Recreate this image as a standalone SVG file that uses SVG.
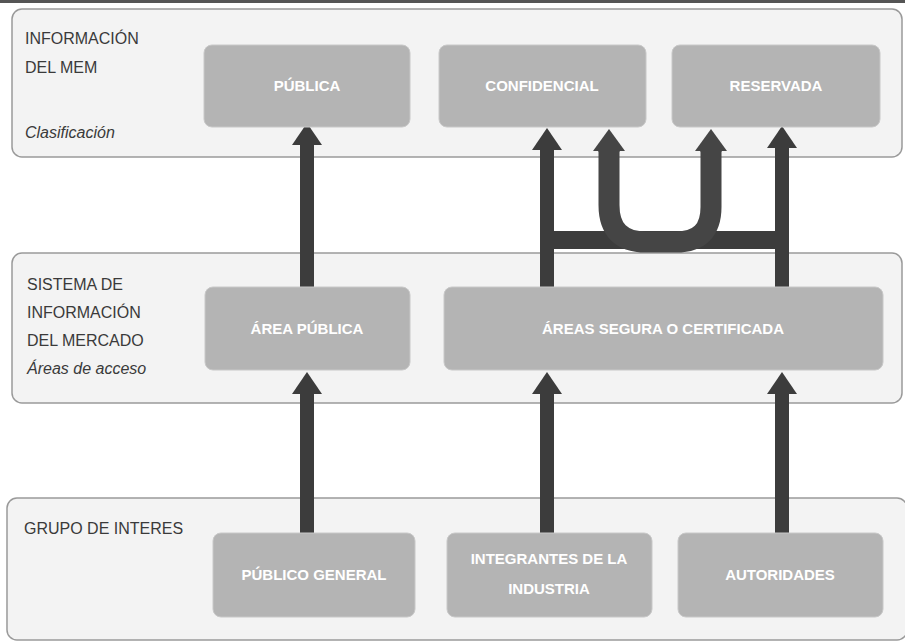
<svg xmlns="http://www.w3.org/2000/svg" width="905" height="644" viewBox="0 0 905 644">
  <defs>
    <style>
      .band { fill: #f3f3f3; stroke: #9a9a9a; stroke-width: 1.5; }
      .box { fill: #b4b4b4; stroke: #c8c8c8; stroke-width: 1; }
      .lbl { font-family: "Liberation Sans", Arial, sans-serif; font-size: 16px; fill: #3a3a3a; }
      .it { font-style: italic; }
      .bt { font-family: "Liberation Sans", Arial, sans-serif; font-size: 15px; font-weight: bold; fill: #ffffff; text-anchor: middle; }
      .arr { stroke: #3c3c3c; stroke-width: 14; fill: none; marker-end: url(#head); }
      .thick { stroke: #454545; stroke-width: 21; fill: none; }
    </style>
    <marker id="head" markerUnits="userSpaceOnUse" viewBox="0 0 22 30" refX="0" refY="15" markerWidth="22" markerHeight="30" orient="auto">
      <path d="M0,0 L22,15 L0,30 Z" fill="#3c3c3c"/>
    </marker>
    <marker id="head2" markerUnits="userSpaceOnUse" viewBox="0 0 22 32" refX="0" refY="16" markerWidth="22" markerHeight="32" orient="auto">
      <path d="M0,0 L22,16 L0,32 Z" fill="#454545"/>
    </marker>
  </defs>
  <rect width="905" height="644" fill="#ffffff"/>
  <rect x="0" y="0" width="905" height="3" fill="#555555"/>

  <g id="band-info">
    <rect class="band" x="12" y="9" width="890" height="148" rx="10"/>
    <text class="lbl" x="25" y="44">INFORMACIÓN</text>
    <text class="lbl" x="25" y="73">DEL MEM</text>
    <text class="lbl it" x="25" y="138">Clasificación</text>
  </g>
  <g id="band-sistema">
    <rect class="band" x="12" y="253" width="890" height="150" rx="10"/>
    <text class="lbl" x="27" y="290">SISTEMA DE</text>
    <text class="lbl" x="27" y="318">INFORMACIÓN</text>
    <text class="lbl" x="27" y="346">DEL MERCADO</text>
    <text class="lbl it" x="27" y="374">Áreas de acceso</text>
  </g>
  <g id="band-grupo">
    <rect class="band" x="7" y="498" width="900" height="142" rx="10"/>
    <text class="lbl" x="24" y="534">GRUPO DE INTERES</text>
  </g>

  <g id="connectors">
    <line class="arr" x1="307" y1="287" x2="307" y2="145"/>
    <line class="arr" x1="307" y1="533" x2="307" y2="394"/>
    <line class="arr" x1="547" y1="533" x2="547" y2="394"/>
    <line class="arr" x1="782" y1="533" x2="782" y2="394"/>
    <path class="thick" d="M547,240 H782" style="stroke-width:18;stroke:#3c3c3c"/>
    <path class="thick" d="M609,150 V205 Q609,242 646,242 H676 Q711,242 711,207 V150" style="marker-start:none"/>
    <line x1="609" y1="152" x2="609" y2="151" stroke="#454545" stroke-width="21" marker-end="url(#head2)"/>
    <line x1="711" y1="152" x2="711" y2="151" stroke="#454545" stroke-width="21" marker-end="url(#head2)"/>
    <line class="arr" x1="547" y1="287" x2="547" y2="150"/>
    <line class="arr" x1="782" y1="287" x2="782" y2="148"/>
  </g>

  <g id="publica">
    <rect class="box" x="204" y="45" width="206" height="82" rx="8"/>
    <text class="bt" x="307" y="91">PÚBLICA</text>
  </g>
  <g id="confidencial">
    <rect class="box" x="439" y="45" width="207" height="82" rx="8"/>
    <text class="bt" x="542" y="91">CONFIDENCIAL</text>
  </g>
  <g id="reservada">
    <rect class="box" x="672" y="45" width="208" height="82" rx="8"/>
    <text class="bt" x="776" y="91">RESERVADA</text>
  </g>
  <g id="area-publica">
    <rect class="box" x="205" y="287" width="205" height="83" rx="8"/>
    <text class="bt" x="307" y="334">ÁREA PÚBLICA</text>
  </g>
  <g id="areas-segura">
    <rect class="box" x="444" y="287" width="439" height="83" rx="8"/>
    <text class="bt" x="663" y="334">ÁREAS SEGURA O CERTIFICADA</text>
  </g>
  <g id="publico-general">
    <rect class="box" x="213" y="533" width="202" height="84" rx="8"/>
    <text class="bt" x="314" y="580">PÚBLICO GENERAL</text>
  </g>
  <g id="integrantes">
    <rect class="box" x="447" y="533" width="205" height="84" rx="8"/>
    <text class="bt" x="549" y="564">INTEGRANTES DE LA</text>
    <text class="bt" x="549" y="594">INDUSTRIA</text>
  </g>
  <g id="autoridades">
    <rect class="box" x="678" y="533" width="205" height="84" rx="8"/>
    <text class="bt" x="780" y="580">AUTORIDADES</text>
  </g>
</svg>
